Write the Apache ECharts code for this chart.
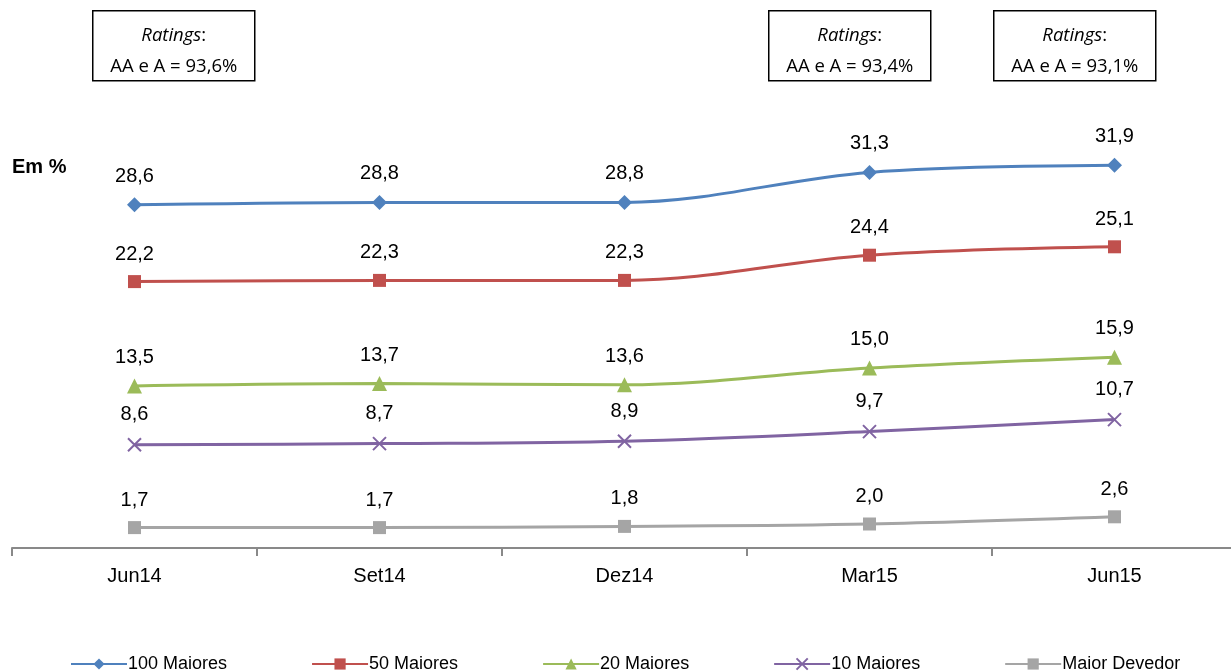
<!DOCTYPE html>
<html>
<head>
<meta charset="utf-8">
<script src="https://cdn.jsdelivr.net/npm/echarts@6/dist/echarts.min.js"></script>
<style>html,body{margin:0;padding:0;background:#fff;overflow:hidden}#c{width:1237px;height:672px}</style>
</head>
<body>
<div id="c"></div>
<script>
const categories = ['Jun14', 'Set14', 'Dez14', 'Mar15', 'Jun15'];
const seriesNames = ['100 Maiores', '50 Maiores', '20 Maiores', '10 Maiores', 'Maior Devedor'];
const top100 = [28.6, 28.8, 28.8, 31.3, 31.9];
const top50 = [22.2, 22.3, 22.3, 24.4, 25.1];
const top20 = [13.5, 13.7, 13.6, 15.0, 15.9];
const top10 = [8.6, 8.7, 8.9, 9.7, 10.7];
const maiorDevedor = [1.7, 1.7, 1.8, 2.0, 2.6];
const ratingsLabels = ['AA e A = 93,6%', 'AA e A = 93,4%', 'AA e A = 93,1%'];

const colors = ['#4F81BD', '#C0504D', '#9BBB59', '#8064A2', '#A5A5A5'];
const symbols = ['diamond', 'rect', 'triangle', 'path://M0,0L10,10M10,0L0,10', 'rect'];
const symbolSizes = [15, 13, 15, 13, 13];
const dataSets = [top100, top50, top20, top10, maiorDevedor];

const chart = echarts.init(document.getElementById('c'));
const FONT = '"Liberation Sans", Arial, sans-serif';
const BOXFONT = '"Open Sans", sans-serif';

const series = dataSets.map((d, i) => ({
  name: seriesNames[i],
  type: 'line',
  data: d,
  smooth: 0.35,
  symbol: symbols[i],
  symbolSize: symbolSizes[i],
  lineStyle: { width: 3, color: colors[i] },
  itemStyle: i === 3 ? { color: 'none', borderColor: colors[i], borderWidth: 2 } : { color: colors[i] },
  label: {
    show: true, position: 'top', distance: 11,
    fontFamily: FONT, fontSize: 20, color: '#000',
    formatter: p => p.value.toFixed(1).replace('.', ',')
  },
  emphasis: { disabled: true },
  animation: false
}));

function box(x, text) {
  return {
    type: 'group', left: x, top: 10,
    children: [
      { type: 'rect', shape: { x: 0, y: 0, width: 162, height: 70 },
        style: { fill: '#fff', stroke: '#000', lineWidth: 1.5 } },
      { type: 'text', x: 81, y: 25, style: {
          text: '{i|Ratings}{n|:}', align: 'center', verticalAlign: 'middle',
          rich: {
            i: { fontFamily: BOXFONT, fontSize: 18.5, fontStyle: 'italic', fill: '#000', color: '#000' },
            n: { fontFamily: BOXFONT, fontSize: 18.5, fill: '#000', color: '#000' }
          } } },
      { type: 'text', x: 81, y: 56, style: {
          text: text, align: 'center', verticalAlign: 'middle',
          fontFamily: BOXFONT, fontSize: 18.5, fill: '#000' } }
    ]
  };
}

chart.setOption({
  animation: false,
  color: colors,
  grid: { left: 12, top: 128, right: 0, height: 420, containLabel: false },
  xAxis: {
    type: 'category', data: categories, boundaryGap: true,
    axisLine: { lineStyle: { color: '#898989', width: 2 } },
    axisTick: { show: true, length: 8, lineStyle: { color: '#898989', width: 2 } },
    axisLabel: { fontFamily: FONT, fontSize: 20, color: '#000', margin: 18 }
  },
  yAxis: {
    type: 'value', min: 0, max: 35, interval: 5,
    show: false, splitLine: { show: false }
  },
  legend: {
    data: seriesNames, bottom: -6, left: 65, itemWidth: 56, itemHeight: 14, itemGap: 84,
    textStyle: { fontFamily: FONT, fontSize: 18, color: '#000', padding: [0, 0, 0, -4] }
  },
  graphic: [
    box(92, ratingsLabels[0]),
    box(768, ratingsLabels[1]),
    box(993, ratingsLabels[2]),
    { type: 'text', left: 12, top: 157, style: { text: 'Em %', fontFamily: FONT, fontWeight: 'bold', fontSize: 20, fill: '#000' } }
  ],
  series: series
});
</script>
</body>
</html>
